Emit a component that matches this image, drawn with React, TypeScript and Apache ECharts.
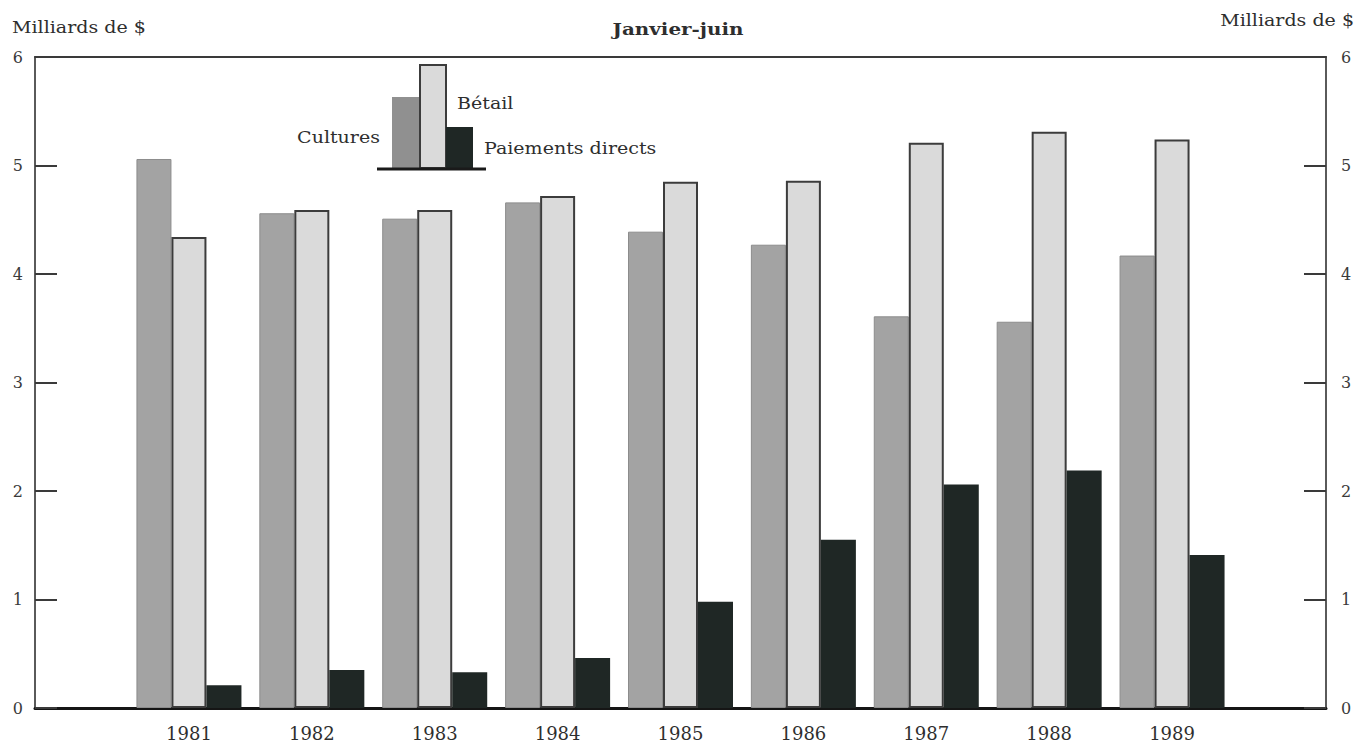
import { useEffect, useRef } from "react";
import * as echarts from "echarts";

const years = ["1981", "1982", "1983", "1984", "1985", "1986", "1987", "1988", "1989"];
const cultures = [5.06, 4.56, 4.51, 4.66, 4.39, 4.27, 3.61, 3.56, 4.17];
const betail = [4.34, 4.59, 4.59, 4.72, 4.85, 4.86, 5.21, 5.31, 5.24];
const paiements = [0.21, 0.35, 0.33, 0.46, 0.98, 1.55, 2.06, 2.19, 1.41];
const seriesNames = ["Cultures", "Bétail", "Paiements directs"];
const yMin = 0;
const yMax = 6;
const yStep = 1;
const unitLabel = "Milliards de $";
const titleText = "Janvier-juin";

const FONT = "'DejaVu Serif', 'Liberation Serif', serif";
const TXT = "#2e2e2e";
const C_CULT = "#a3a3a3";
const C_BET = "#dadada";
const C_PAI = "#1f2725";

export default function App() {
  const ref = useRef<HTMLDivElement>(null);
  useEffect(() => {
    if (!ref.current) return;
    const chart = echarts.init(ref.current, undefined, { renderer: "svg" });
    const hiddenValueX = (gridIndex: number, position: string, color: string, width: number) => ({
      gridIndex,
      type: "value",
      min: 0,
      max: 1,
      position,
      axisLine: { show: true, onZero: false, lineStyle: { color, width } },
      axisTick: { show: false },
      axisLabel: { show: false },
      splitLine: { show: false },
    });
    const frameY = (position: string, margin: number) => ({
      gridIndex: 0,
      type: "value",
      min: yMin,
      max: yMax,
      interval: yStep,
      position,
      axisLine: { show: true, onZero: false, lineStyle: { color: "#5a5a5a", width: 2 } },
      axisTick: { show: true, inside: true, length: 22, lineStyle: { color: "#3a3a3a", width: 2 } },
      axisLabel: { margin, fontFamily: FONT, fontSize: 16, color: "#3a3a3a" },
      splitLine: { show: false },
    });
    const txt = (text: string, x: number, y: number, align: string, bold = false, sx = 1.12) => ({
      type: "text",
      x,
      y,
      scaleX: sx,
      style: {
        text,
        font: `${bold ? "bold " : ""}17px ${FONT}`,
        fill: TXT,
        textAlign: align,
        textVerticalAlign: "middle",
      },
    });
    chart.setOption({
      animation: false,
      backgroundColor: "#ffffff",
      grid: [
        { left: 35, right: 30, top: 57, bottom: 35 },
        { left: 127.5, right: 122.5, top: 57, bottom: 35 },
      ],
      xAxis: [
        hiddenValueX(0, "bottom", "#151515", 3),
        hiddenValueX(0, "top", "#3a3a3a", 2),
        {
          gridIndex: 1,
          type: "category",
          data: years,
          axisLine: { show: false },
          axisTick: { show: false },
          axisLabel: { margin: 16, fontFamily: FONT, fontSize: 18, color: TXT },
        },
      ],
      yAxis: [
        frameY("left", 12),
        frameY("right", 15),
        { gridIndex: 1, type: "value", min: yMin, max: yMax, show: false },
      ],
      series: [
        {
          name: seriesNames[0],
          type: "bar",
          xAxisIndex: 2,
          yAxisIndex: 2,
          data: cultures,
          barWidth: 35,
          barGap: "0%",
          itemStyle: { color: C_CULT, borderColor: "#8c8c8c", borderWidth: 1 },
        },
        {
          name: seriesNames[1],
          type: "bar",
          xAxisIndex: 2,
          yAxisIndex: 2,
          data: betail,
          barWidth: 35,
          barGap: "0%",
          itemStyle: { color: C_BET, borderColor: "#3c3c3c", borderWidth: 2 },
        },
        {
          name: seriesNames[2],
          type: "bar",
          xAxisIndex: 2,
          yAxisIndex: 2,
          data: paiements,
          barWidth: 35,
          barGap: "0%",
          itemStyle: { color: C_PAI },
        },
      ],
      graphic: [
        txt(unitLabel, 12, 27, "left"),
        txt(unitLabel, 1354, 20, "right"),
        txt(titleText, 678, 29, "center", true, 1.17),
        // legend: miniature bar group
        { type: "rect", shape: { x: 392, y: 97, width: 28, height: 71 }, style: { fill: "#909090" } },
        { type: "rect", shape: { x: 420, y: 65, width: 26, height: 103 }, style: { fill: C_BET, stroke: "#3c3c3c", lineWidth: 2 } },
        { type: "rect", shape: { x: 446, y: 127, width: 27, height: 41 }, style: { fill: C_PAI } },
        { type: "line", shape: { x1: 377, y1: 169, x2: 486, y2: 169 }, style: { stroke: "#1a1a1a", lineWidth: 3 } },
        txt(seriesNames[0], 380, 137, "right"),
        txt(seriesNames[1], 457, 103, "left"),
        txt(seriesNames[2], 484, 148, "left"),
      ],
    });
    return () => chart.dispose();
  }, []);
  return (
    <div
      ref={ref}
      style={{ position: "fixed", left: 0, top: 0, width: 1356, height: 743, background: "#fff" }}
    />
  );
}
